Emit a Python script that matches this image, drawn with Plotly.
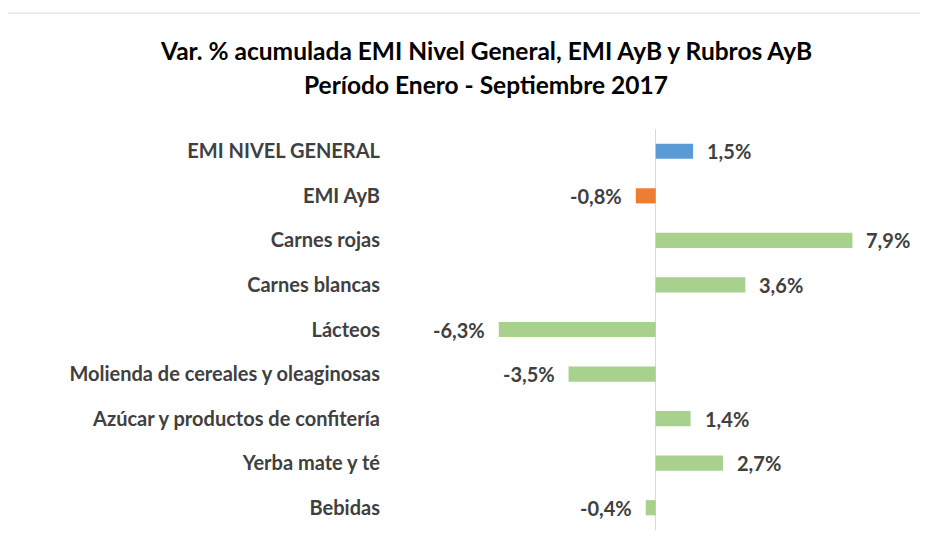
import plotly.graph_objects as go

categories = ["EMI NIVEL GENERAL", "EMI AyB", "Carnes rojas", "Carnes blancas", "Lácteos",
              "Molienda de cereales y oleaginosas", "Azúcar y productos de confitería",
              "Yerba mate y té", "Bebidas"]
values = [1.5, -0.8, 7.9, 3.6, -6.3, -3.5, 1.4, 2.7, -0.4]
labels = ["1,5%", "-0,8%", "7,9%", "3,6%", "-6,3%", "-3,5%", "1,4%", "2,7%", "-0,4%"]
colors = ["#5B9BD5", "#ED7D31"] + ["#A9D18E"] * 7
title_lines = ["Var. % acumulada EMI Nivel General, EMI AyB y Rubros AyB",
               "Período Enero - Septiembre 2017"]

FONT = "Lato"
TXT = "#404040"

fig = go.Figure(go.Bar(
    x=values, y=categories, orientation="h",
    marker=dict(color=colors, line=dict(width=0)),
    width=0.34, hoverinfo="skip",
))

for v, c, t in zip(values, categories, labels):
    fig.add_annotation(x=v, y=c, text=t, showarrow=False,
                       xanchor="left" if v > 0 else "right",
                       xshift=12 if v > 0 else -12,
                       font=dict(family=FONT, size=20, color=TXT, weight="bold"))

fig.add_annotation(x=0.193, y=1.197, xref="paper", yref="paper", text=title_lines[0],
                   showarrow=False, xanchor="center", yanchor="middle",
                   font=dict(family=FONT, size=24.5, color="#000000", weight="bold"))
fig.add_annotation(x=0.193, y=1.110, xref="paper", yref="paper", text=title_lines[1],
                   showarrow=False, xanchor="center", yanchor="middle",
                   font=dict(family=FONT, size=24.5, color="#000000", weight="bold"))

fig.add_shape(type="line", xref="paper", yref="paper", x0=-0.721, x1=1.04, y0=1.289, y1=1.289,
              line=dict(color="#D9D9D9", width=1))

fig.update_layout(
    width=920, height=541,
    margin=dict(l=377, r=20, t=121, b=19),
    paper_bgcolor="white", plot_bgcolor="white",
    showlegend=False,
    xaxis=dict(range=[-10.87, 10.13], showgrid=False, showticklabels=False, ticks="",
               zeroline=True, zerolinecolor="#D9D9D9", zerolinewidth=1, fixedrange=True),
    yaxis=dict(autorange="reversed", showgrid=False, ticks="", ticklabelstandoff=4,
               tickfont=dict(family=FONT, size=20, color=TXT, weight="bold"), fixedrange=True),
)

fig.write_html("out.html")
